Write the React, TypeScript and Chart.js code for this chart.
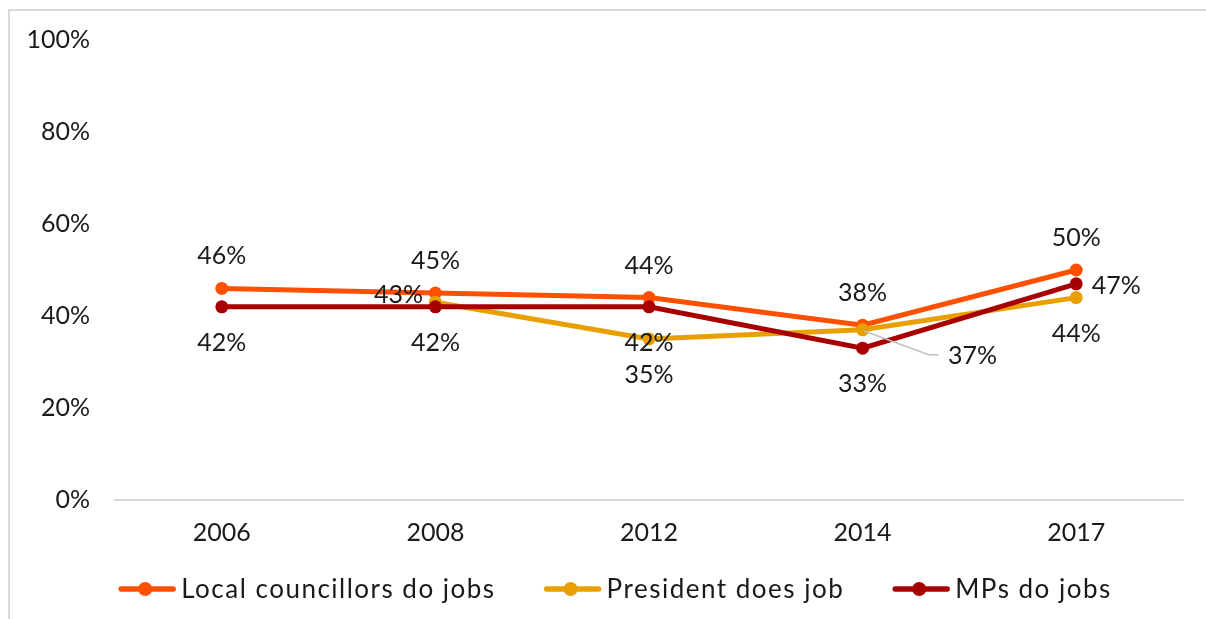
import React, { useEffect, useRef } from 'react';
import { Chart, registerables } from 'chart.js';

Chart.register(...registerables);

const years = ['2006', '2008', '2012', '2014', '2017'];
const localCouncillors = [46, 45, 44, 38, 50];
const president = [null, 43, 35, 37, 44];
const mps = [42, 42, 42, 33, 47];
const yMin = 0;
const yMax = 100;
const yStep = 20;

const seriesNames = ['Local councillors do jobs', 'President does job', 'MPs do jobs'];
const seriesColors = ['#FF5000', '#E8A000', '#A80000'];

// where each value label sits relative to its point
const localLabelPos = ['above', 'above', 'above', 'above', 'above'];
const presidentLabelPos = ['none', 'left', 'below', 'callout', 'below'];
const mpsLabelPos = ['below', 'below', 'below', 'below', 'right'];

const FONT = 'Lato, "Open Sans", sans-serif';
const FONT_SIZE = 25;
const TEXT_COLOR = '#1a1a1a';

const valueLabelPlugin = {
  id: 'valueLabels',
  afterDatasetsDraw(chart: any) {
    const ctx = chart.ctx;
    ctx.save();
    ctx.font = `${FONT_SIZE}px ${FONT}`;
    ctx.fillStyle = TEXT_COLOR;
    ctx.textAlign = 'center';
    ctx.textBaseline = 'middle';
    chart.data.datasets.forEach((ds: any, di: number) => {
      const meta = chart.getDatasetMeta(di);
      meta.data.forEach((pt: any, i: number) => {
        const v = ds.data[i];
        if (v == null) return;
        const p = ds.labelPos[i];
        let dx = 0;
        let dy = 0;
        if (p === 'none') return;
        if (p === 'above') dy = -32;
        else if (p === 'below') dy = 36;
        else if (p === 'left') { dx = -37; dy = -7; }
        else if (p === 'right') { dx = 40; dy = 2; }
        else if (p === 'callout') {
          ctx.strokeStyle = '#bfbfbf';
          ctx.lineWidth = 1.5;
          ctx.beginPath();
          ctx.moveTo(pt.x + 1, pt.y + 1);
          ctx.lineTo(pt.x + 66, pt.y + 25);
          ctx.lineTo(pt.x + 76, pt.y + 25);
          ctx.stroke();
          dx = 110;
          dy = 26;
        }
        ctx.fillText(v + '%', pt.x + dx, pt.y + dy);
      });
    });
    ctx.restore();
  },
};

const legendPlugin = {
  id: 'lineLegend',
  afterDraw(chart: any) {
    const ctx = chart.ctx;
    ctx.save();
    ctx.font = `26px ${FONT}`;
    try { (ctx as any).letterSpacing = '1.5px'; } catch (e) { /* ignore */ }
    const lineLen = 58;
    const gap = 5;
    const spacing = 48;
    const items = chart.data.datasets.map((ds: any) => ({ label: ds.label, color: ds.borderColor }));
    const widths = items.map((it: any) => lineLen + gap + ctx.measureText(it.label).width);
    const total = widths.reduce((a: number, b: number) => a + b, 0) + spacing * (items.length - 1);
    let x = chart.chartArea.left + 500 - total / 2;
    const y = chart.chartArea.bottom + 89;
    items.forEach((it: any, i: number) => {
      ctx.strokeStyle = it.color;
      ctx.lineWidth = 5.5;
      ctx.lineCap = 'round';
      ctx.beginPath();
      ctx.moveTo(x + 3, y);
      ctx.lineTo(x + lineLen - 3, y);
      ctx.stroke();
      ctx.fillStyle = it.color;
      ctx.beginPath();
      ctx.arc(x + lineLen / 2 - 2, y, 7, 0, Math.PI * 2);
      ctx.fill();
      ctx.fillStyle = TEXT_COLOR;
      ctx.textAlign = 'left';
      ctx.textBaseline = 'middle';
      ctx.fillText(it.label, x + lineLen + gap, y + 1);
      x += widths[i] + spacing;
    });
    ctx.restore();
  },
};

export default function App() {
  const canvasRef = useRef<HTMLCanvasElement | null>(null);

  useEffect(() => {
    if (!canvasRef.current) return;
    document.documentElement.style.overflow = 'hidden';
    const mk = (label: string, data: (number | null)[], color: string, labelPos: string[], order: number) => ({
      label,
      data,
      borderColor: color,
      backgroundColor: color,
      pointBackgroundColor: color,
      pointBorderWidth: 0,
      pointRadius: 6.5,
      borderWidth: 5,
      tension: 0,
      spanGaps: false,
      labelPos,
      order,
    });
    const chart = new Chart(canvasRef.current, {
      type: 'line',
      data: {
        labels: years,
        datasets: [
          mk(seriesNames[0], localCouncillors, seriesColors[0], localLabelPos, 3),
          mk(seriesNames[1], president, seriesColors[1], presidentLabelPos, 2),
          mk(seriesNames[2], mps, seriesColors[2], mpsLabelPos, 1),
        ] as any,
      },
      options: {
        animation: false,
        responsive: true,
        maintainAspectRatio: false,
        layout: { padding: { left: 0, right: 37, top: 29, bottom: 59 } },
        plugins: {
          legend: { display: false },
          tooltip: { enabled: false },
        },
        scales: {
          x: {
            offset: true,
            grid: { display: false, drawTicks: true, tickLength: 8 },
            border: { display: true, color: '#d9d9d9', width: 2 },
            ticks: {
              color: TEXT_COLOR,
              font: { family: FONT, size: FONT_SIZE },
              padding: 10,
            },
            afterFit: (s: any) => { s.height = 60; },
          },
          y: {
            min: yMin,
            max: yMax,
            grid: { display: false, drawTicks: true, tickLength: 25 },
            border: { display: false },
            ticks: {
              stepSize: yStep,
              color: TEXT_COLOR,
              font: { family: FONT, size: FONT_SIZE },
              padding: 0,
              callback: (v: any) => v + '%',
            },
            afterFit: (s: any) => { s.width = 105; },
          },
        },
      },
      plugins: [valueLabelPlugin, legendPlugin],
    });
    return () => chart.destroy();
  }, []);

  return (
    <div
      style={{
        position: 'fixed',
        left: 8,
        top: 9,
        width: 1212,
        height: 620,
        borderTop: '2px solid #d9d9d9',
        borderLeft: '2px solid #d9d9d9',
        boxSizing: 'border-box',
        overflow: 'hidden',
      }}
    >
      <div style={{ width: 1210, height: 608, position: 'relative' }}>
        <canvas ref={canvasRef} />
      </div>
    </div>
  );
}
